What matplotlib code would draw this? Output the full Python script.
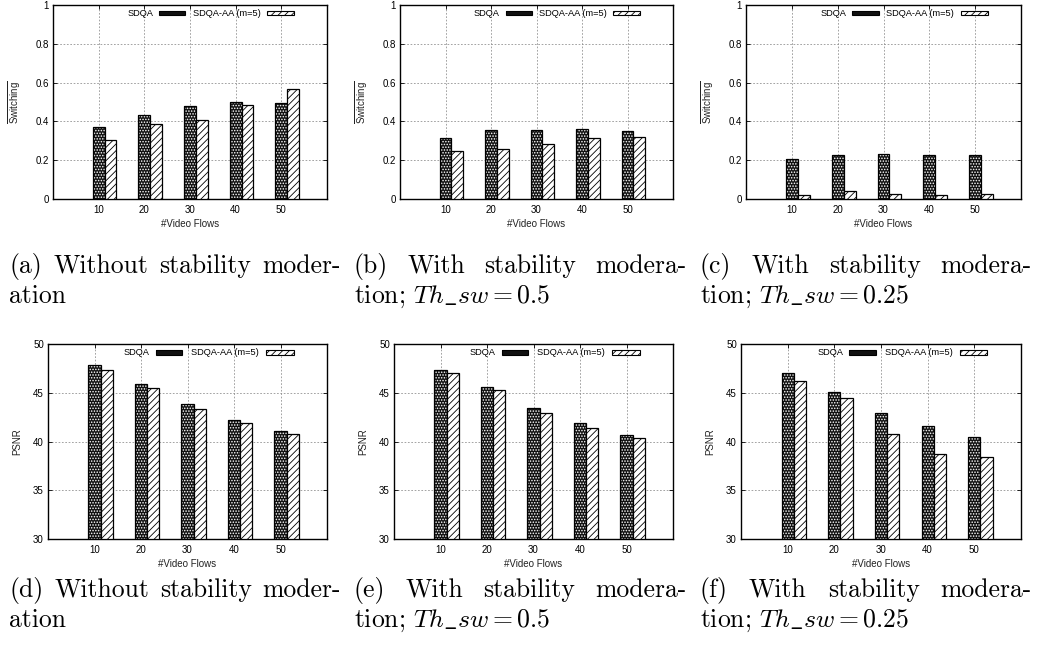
import matplotlib
matplotlib.use("Agg")
import matplotlib.pyplot as plt
from matplotlib.patches import Rectangle
from matplotlib.ticker import FixedLocator, FuncFormatter

# ---- data -------------------------------------------------------------
flows = [10, 20, 30, 40, 50]
series_names = ["SDQA", "SDQA-AA (m=5)"]

sw_none_sdqa = [0.369, 0.431, 0.478, 0.498, 0.493]
sw_none_aa = [0.302, 0.385, 0.409, 0.485, 0.565]
sw_05_sdqa = [0.316, 0.356, 0.356, 0.361, 0.351]
sw_05_aa = [0.247, 0.258, 0.284, 0.314, 0.321]
sw_025_sdqa = [0.206, 0.225, 0.230, 0.229, 0.229]
sw_025_aa = [0.021, 0.043, 0.027, 0.021, 0.026]

psnr_none_sdqa = [47.84, 45.92, 43.80, 42.19, 41.06]
psnr_none_aa = [47.36, 45.51, 43.32, 41.88, 40.75]
psnr_05_sdqa = [47.33, 45.58, 43.42, 41.85, 40.62]
psnr_05_aa = [46.99, 45.24, 42.91, 41.37, 40.34]
psnr_025_sdqa = [46.99, 45.07, 42.91, 41.58, 40.45]
psnr_025_aa = [46.20, 44.45, 40.72, 38.70, 38.39]

sw_ticks = [0, 0.2, 0.4, 0.6, 0.8, 1]
psnr_ticks = [30, 35, 40, 45, 50]
x_label = "#Video Flows"
sw_label = r"$\overline{\mathrm{Switching}}$"
psnr_label = "PSNR"

captions = [
    ["(a) Without stability moder-", "ation"],
    ["(b) With stability modera-", r"tion; $Th\_sw = 0.5$"],
    ["(c) With stability modera-", r"tion; $Th\_sw = 0.25$"],
    ["(d) Without stability moder-", "ation"],
    ["(e) With stability modera-", r"tion; $Th\_sw = 0.5$"],
    ["(f) With stability modera-", r"tion; $Th\_sw = 0.25$"],
]

# ---- style ------------------------------------------------------------
plt.rcParams["font.family"] = ["Liberation Sans", "DejaVu Sans"]
plt.rcParams["mathtext.fontset"] = "custom"
plt.rcParams["mathtext.rm"] = "Liberation Sans"
plt.rcParams["mathtext.it"] = "Liberation Sans:italic"
plt.rcParams["hatch.linewidth"] = 0.6

W, H = 1045, 647
fig = plt.figure(figsize=(W / 100, H / 100), dpi=100)

BAR_W = 2.6
DARK = "#111111"
FS = 7
LEG_FS = 6.7
LABEL_COLOR = "#222222"
DOT_RC = {"hatch.color": "white", "hatch.linewidth": 0.72}


def px_axes(left, right, top, bottom):
    return fig.add_axes([left / W, 1 - bottom / H, (right - left) / W, (bottom - top) / H])


def dark_patch_kwargs():
    return dict(color=DARK, edgecolor=None, hatch="......")


def draw_panel(ax, sdqa, aa, ylim, yticks, ylabel, ylab_x):
    x = list(flows)
    base = ylim[0]
    sdqa_h = [v - base for v in sdqa]
    aa_h = [v - base for v in aa]
    # dotted dark bars: white dot pattern first, black outline on top
    with plt.rc_context(DOT_RC):
        ax.bar(x, sdqa_h, BAR_W, bottom=base, linewidth=0, zorder=2,
               **dark_patch_kwargs())
    ax.bar(x, sdqa_h, BAR_W, bottom=base, fill=False, edgecolor="black",
           linewidth=0.9, zorder=3)
    x2 = [v + BAR_W for v in x]
    ax.bar(x2, aa_h, BAR_W, bottom=base, facecolor="white", edgecolor="black",
           hatch="/////", linewidth=0.9, zorder=3)

    ax.set_xlim(0, 60)
    ax.set_ylim(*ylim)
    ax.xaxis.set_major_locator(FixedLocator(flows))
    ax.yaxis.set_major_locator(FixedLocator(yticks))
    ax.yaxis.set_major_formatter(FuncFormatter(lambda v, p: f"{v:g}"))
    ax.set_axisbelow(True)
    ax.grid(True, color="#8a8a8a", linestyle=(0, (2.2, 2.2)), linewidth=0.55)
    ax.tick_params(direction="in", top=True, right=True, length=3,
                   width=0.6, labelsize=FS)
    ax.tick_params(axis="x", pad=4.5)
    ax.tick_params(axis="y", pad=3)
    for s in ax.spines.values():
        s.set_linewidth(1.0)
    ax.set_xlabel(x_label, fontsize=FS, color=LABEL_COLOR)
    ax.xaxis.set_label_coords(0.5, -0.105)
    ax.set_ylabel(ylabel, fontsize=FS, color=LABEL_COLOR)
    ax.yaxis.set_label_coords(ylab_x, 0.5)

    # key drawn in the upper part of the plot area
    ty = 0.958
    bh = 0.024
    ax.text(0.365, ty, series_names[0], transform=ax.transAxes, ha="right",
            va="center", fontsize=LEG_FS, zorder=5)
    with plt.rc_context(DOT_RC):
        ax.add_patch(Rectangle((0.387, ty - bh / 2), 0.095, bh,
                               transform=ax.transAxes, linewidth=0,
                               zorder=5, **dark_patch_kwargs()))
    ax.add_patch(Rectangle((0.387, ty - bh / 2), 0.095, bh,
                           transform=ax.transAxes, fill=False,
                           edgecolor="black", linewidth=0.8, zorder=6))
    ax.text(0.757, ty, series_names[1], transform=ax.transAxes, ha="right",
            va="center", fontsize=LEG_FS, zorder=5)
    ax.add_patch(Rectangle((0.781, ty - bh / 2), 0.099, bh,
                           transform=ax.transAxes, facecolor="white",
                           edgecolor="black", hatch="/////", linewidth=0.8,
                           zorder=6))


top_boxes = [(53, 327), (400, 673), (746, 1021)]
bot_boxes = [(48, 327), (394, 673), (741, 1021)]

sw_sets = [(sw_none_sdqa, sw_none_aa), (sw_05_sdqa, sw_05_aa), (sw_025_sdqa, sw_025_aa)]
psnr_sets = [(psnr_none_sdqa, psnr_none_aa), (psnr_05_sdqa, psnr_05_aa),
             (psnr_025_sdqa, psnr_025_aa)]

for (l, r), (a, b) in zip(top_boxes, sw_sets):
    ax = px_axes(l, r, 5, 199)
    draw_panel(ax, a, b, (0, 1), sw_ticks, sw_label, -30 / (r - l))

for (l, r), (a, b) in zip(bot_boxes, psnr_sets):
    ax = px_axes(l, r, 344, 539)
    draw_panel(ax, a, b, (30, 50), psnr_ticks, psnr_label, -26 / (r - l))

# ---- sub-figure captions (justified first line) -----------------------
CAP_FS = 18.5
cap_kw = dict(fontsize=CAP_FS, family="cmr10", math_fontfamily="cm",
              va="baseline", ha="left")
cap_x = [(9, 341), (354, 686), (700, 1032)]
cap_rows = [(273, 303), (597, 627)]

renderer = fig.canvas.get_renderer()
for i, lines in enumerate(captions):
    x0, x1 = cap_x[i % 3]
    y1, y2 = cap_rows[i // 3]
    words = lines[0].split(" ")
    objs = [fig.text(0, 1 - y1 / H, w, **cap_kw) for w in words]
    widths = [o.get_window_extent(renderer).width for o in objs]
    gap = ((x1 - x0) - sum(widths)) / (len(words) - 1)
    xpos = x0
    for o, w in zip(objs, widths):
        o.set_x(xpos / W)
        xpos += w + gap
    fig.text(x0 / W, 1 - y2 / H, lines[1], **cap_kw)

fig.savefig("out.png", dpi=100)
